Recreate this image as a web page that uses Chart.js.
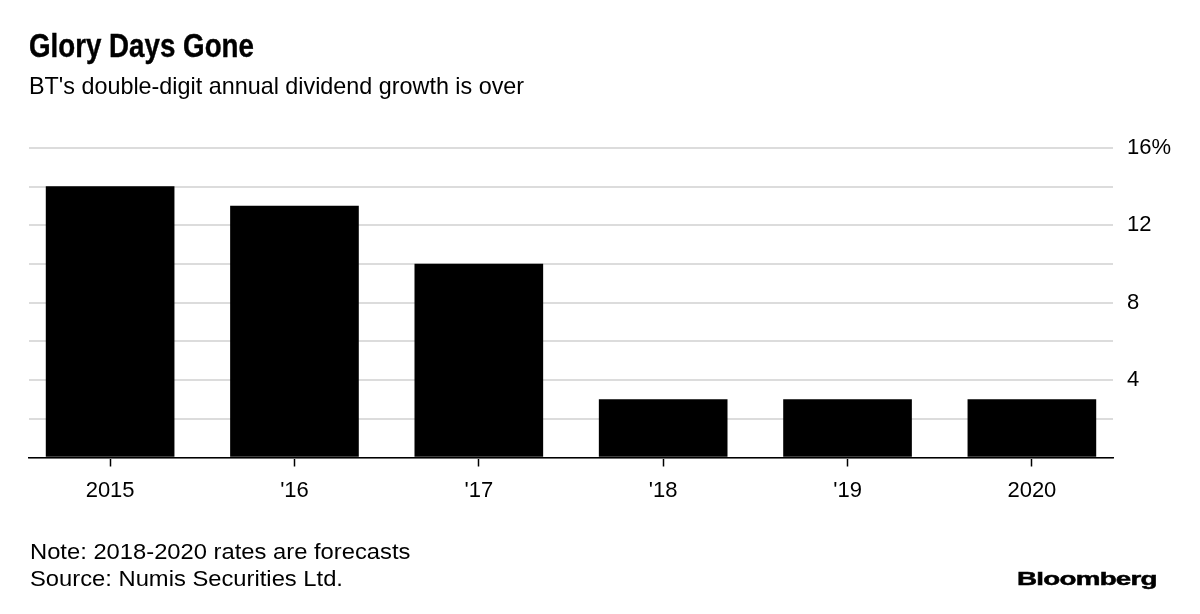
<!DOCTYPE html>
<html>
<head>
<meta charset="utf-8">
<script src="https://cdn.jsdelivr.net/npm/chart.js@4.4.0/dist/chart.umd.min.js"></script>
<style>
  body { margin: 0; background: #fff; font-family: "Liberation Sans", Arial, sans-serif; color: #000; }
  #wrap { position: relative; width: 1200px; height: 614px; overflow: hidden; }
  #mychart { position: absolute; left: 0; top: 0; }
  .txt { position: absolute; white-space: nowrap; line-height: 1; transform-origin: left top; }
  #title { left: 29px; top: 29px; font-size: 33px; font-weight: bold; transform: scaleX(0.84); -webkit-text-stroke: 0.4px #000; }
  #sub { left: 29px; top: 74px; font-size: 24px; transform: scaleX(0.973); }
  #note { left: 30px; top: 541px; font-size: 22px; transform: scaleX(1.08); }
  #src { left: 30px; top: 568px; font-size: 22px; transform: scaleX(1.08); }
  #logo { left: 1017px; top: 569px; font-size: 19px; font-weight: bold; transform: scaleX(1.46); letter-spacing: -0.5px; -webkit-text-stroke: 0.5px #000; }
</style>
</head>
<body>
<div id="wrap">
  <canvas id="mychart" width="1200" height="614"></canvas>
  <div class="txt" id="title">Glory Days Gone</div>
  <div class="txt" id="sub">BT's double-digit annual dividend growth is over</div>
  <div class="txt" id="note">Note: 2018-2020 rates are forecasts</div>
  <div class="txt" id="src">Source: Numis Securities Ltd.</div>
  <div class="txt" id="logo">Bloomberg</div>
</div>
<script>
var years = ["2015", "'16", "'17", "'18", "'19", "2020"];
var growth = [14, 13, 10, 3, 3, 3];
var yTicks = [4, 8, 12, 16];

function drawer(labell, dataa) {
  var ctx = document.getElementById('mychart').getContext('2d');
  var pts = dataa.map(function (v, i) { return { x: i, y: v }; });
  var chart = new Chart(ctx, {
    type: 'bar',
    data: {
      datasets: [{
        label: "Dividend growth",
        data: pts,
        backgroundColor: '#000',
        borderWidth: 0,
        barThickness: 128
      }]
    },
    options: {
      responsive: false,
      animation: false,
      layout: { padding: { left: 29, top: 148, right: 0, bottom: 0 } },
      plugins: { legend: { display: false }, tooltip: { enabled: false } },
      scales: {
        x: {
          type: 'linear',
          offset: false,
          min: -0.44,
          max: labell.length - 1 + 0.44,
          afterBuildTicks: function (s) {
            s.ticks = labell.map(function (l, i) { return { value: i }; });
          },
          afterFit: function (s) { s.height = 614 - 457.5; },
          ticks: {
            color: '#000',
            font: { family: 'Liberation Sans', size: 22 },
            padding: 11,
            maxRotation: 0,
            autoSkip: false,
            callback: function (v) { return labell[v]; }
          },
          grid: { offset: false, drawOnChartArea: false, drawTicks: true, tickLength: 9, tickColor: '#000', tickWidth: 1.5 },
          border: { display: true, color: '#000', width: 1.5 }
        },
        y: {
          position: 'right',
          min: 0,
          max: 16,
          afterFit: function (s) { s.width = 1200 - 1113; },
          ticks: {
            stepSize: 2,
            color: '#000',
            padding: 14,
            font: { family: 'Liberation Sans', size: 22 },
            callback: function (v) {
              if (yTicks.indexOf(v) < 0) return '';
              return v === 16 ? v + '%' : '' + v;
            }
          },
          grid: { color: '#dcdcdc', lineWidth: 2, drawTicks: false },
          border: { display: false }
        }
      }
    }
  });
  return chart;
}
drawer(years, growth);
</script>
</body>
</html>
